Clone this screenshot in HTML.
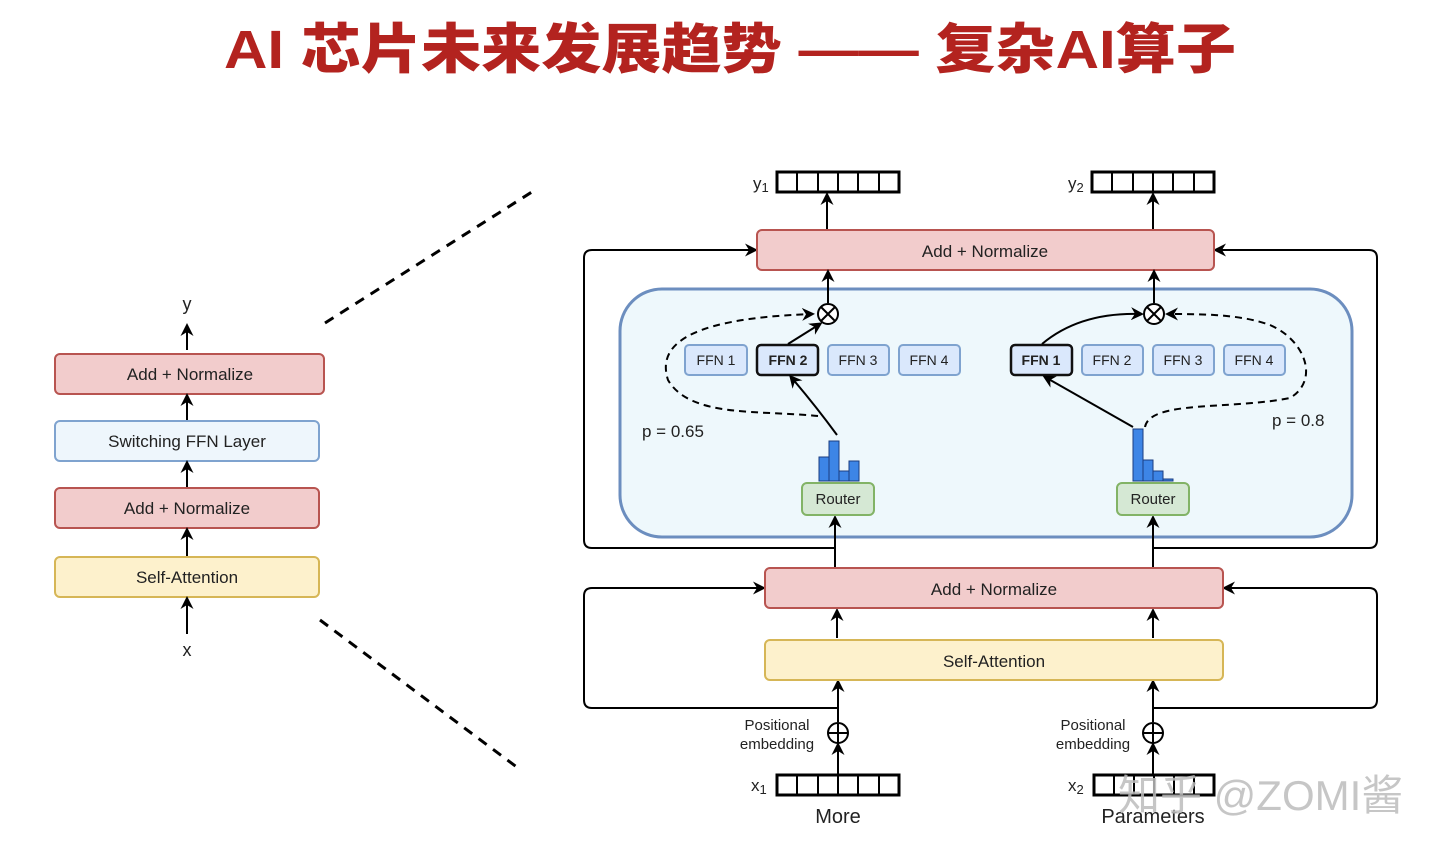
<!DOCTYPE html>
<html><head><meta charset="utf-8"><style>
html,body{margin:0;padding:0;background:#fff;}
svg{display:block;}
text{font-family:"Liberation Sans","Noto Sans CJK SC",sans-serif;fill:#222;}
</style></head><body>
<svg width="1440" height="853" viewBox="0 0 1440 853" xmlns="http://www.w3.org/2000/svg">
<defs>
<marker id="a" markerWidth="13" markerHeight="13" refX="10" refY="6.5" orient="auto" markerUnits="userSpaceOnUse">
<path d="M0,0 L13,6.5 L0,13 L4,6.5 z" fill="#000"/></marker>
</defs>
<text x="730" y="68" text-anchor="middle" font-size="54" font-weight="900" textLength="1012" lengthAdjust="spacingAndGlyphs" style="fill:#b3231f;font-family:'Liberation Sans','Noto Sans CJK SC',sans-serif">AI 芯片未来发展趋势 —— 复杂AI算子</text>

<g stroke-width="2">
<rect x="55" y="354" width="269" height="40" rx="5" fill="#f2cccc" stroke="#b85450"/>
<rect x="55" y="421" width="264" height="40" rx="5" fill="#eef6fc" stroke="#7fa3cf"/>
<rect x="55" y="488" width="264" height="40" rx="5" fill="#f2cccc" stroke="#b85450"/>
<rect x="55" y="557" width="264" height="40" rx="5" fill="#fdf1cc" stroke="#d6b656"/>
</g>
<g font-size="17" text-anchor="middle">
<text x="190" y="380">Add + Normalize</text>
<text x="187" y="447">Switching FFN Layer</text>
<text x="187" y="514">Add + Normalize</text>
<text x="187" y="583">Self-Attention</text>
<text x="187" y="310" font-size="18">y</text>
<text x="187" y="656" font-size="18">x</text>
</g>
<g stroke="#000" stroke-width="2" marker-end="url(#a)">
<line x1="187" y1="350" x2="187" y2="326"/>
<line x1="187" y1="420" x2="187" y2="396"/>
<line x1="187" y1="487" x2="187" y2="463"/>
<line x1="187" y1="556" x2="187" y2="530"/>
<line x1="187" y1="634" x2="187" y2="599"/>
</g>
<g stroke="#000" stroke-width="3" stroke-dasharray="10,8">
<line x1="325" y1="323" x2="535" y2="190"/>
<line x1="320" y1="620" x2="518" y2="768"/>
</g>

<g fill="none" stroke="#000" stroke-width="2">
<path d="M835,548 H592 Q584,548 584,540 V258 Q584,250 592,250 H755" marker-end="url(#a)"/>
<path d="M1153,548 H1369 Q1377,548 1377,540 V258 Q1377,250 1369,250 H1216" marker-end="url(#a)"/>
<path d="M837,708 H592 Q584,708 584,700 V596 Q584,588 592,588 H763" marker-end="url(#a)"/>
<path d="M1153,708 H1369 Q1377,708 1377,700 V596 Q1377,588 1369,588 H1225" marker-end="url(#a)"/>
</g>

<rect x="620" y="289" width="732" height="248" rx="42" fill="#eef8fc" stroke="#6c8ebf" stroke-width="3"/>

<rect x="757" y="230" width="457" height="40" rx="5" fill="#f2cccc" stroke="#b85450" stroke-width="2"/>
<text x="985" y="257" font-size="17" text-anchor="middle">Add + Normalize</text>
<g fill="#fff" stroke="#000" stroke-width="3">
<rect x="777" y="172" width="122" height="20"/>
<rect x="1092" y="172" width="122" height="20"/>
<rect x="777" y="775" width="122" height="20"/>
<rect x="1094" y="775" width="120" height="20"/>
</g>
<g stroke="#000" stroke-width="2">
<path d="M797,172v20M818,172v20M838,172v20M858,172v20M879,172v20"/>
<path d="M1112,172v20M1133,172v20M1153,172v20M1173,172v20M1194,172v20"/>
<path d="M797,775v20M818,775v20M838,775v20M858,775v20M879,775v20"/>
<path d="M1114,775v20M1134,775v20M1154,775v20M1174,775v20M1194,775v20"/>
</g>
<text x="753" y="189" font-size="17">y<tspan font-size="13" dy="3">1</tspan></text>
<text x="1068" y="189" font-size="17">y<tspan font-size="13" dy="3">2</tspan></text>
<text x="751" y="791" font-size="17">x<tspan font-size="13" dy="3">1</tspan></text>
<text x="1068" y="791" font-size="17">x<tspan font-size="13" dy="3">2</tspan></text>
<text x="838" y="823" font-size="20" text-anchor="middle">More</text>
<text x="1153" y="823" font-size="20" text-anchor="middle">Parameters</text>

<g stroke="#000" stroke-width="2" marker-end="url(#a)">
<line x1="827" y1="229" x2="827" y2="195"/>
<line x1="1153" y1="229" x2="1153" y2="195"/>
<line x1="828" y1="303" x2="828" y2="272"/>
<line x1="1154" y1="303" x2="1154" y2="272"/>
<line x1="835" y1="567" x2="835" y2="518"/>
<line x1="1153" y1="567" x2="1153" y2="518"/>
<line x1="837" y1="638" x2="837" y2="611"/>
<line x1="1153" y1="638" x2="1153" y2="611"/>
<line x1="838" y1="722" x2="838" y2="682"/>
<line x1="1153" y1="722" x2="1153" y2="682"/>
<line x1="838" y1="775" x2="838" y2="745"/>
<line x1="1153" y1="775" x2="1153" y2="745"/>
</g>

<rect x="765" y="568" width="458" height="40" rx="5" fill="#f2cccc" stroke="#b85450" stroke-width="2"/>
<text x="994" y="595" font-size="17" text-anchor="middle">Add + Normalize</text>
<rect x="765" y="640" width="458" height="40" rx="5" fill="#fdf1cc" stroke="#d6b656" stroke-width="2"/>
<text x="994" y="667" font-size="17" text-anchor="middle">Self-Attention</text>

<g fill="#fff" stroke="#000" stroke-width="2">
<circle cx="838" cy="733" r="10"/><path d="M828,733h20M838,723v20"/>
<circle cx="1153" cy="733" r="10"/><path d="M1143,733h20M1153,723v20"/>
<circle cx="828" cy="314" r="10"/><path d="M821,307l14,14M835,307l-14,14"/>
<circle cx="1154" cy="314" r="10"/><path d="M1147,307l14,14M1161,307l-14,14"/>
</g>
<g font-size="15" text-anchor="middle">
<text x="777" y="730">Positional</text><text x="777" y="749">embedding</text>
<text x="1093" y="730">Positional</text><text x="1093" y="749">embedding</text>
</g>

<g fill="#dae8fc" stroke="#7fa3cf" stroke-width="2">
<rect x="685" y="345" width="62" height="30" rx="4"/>
<rect x="828" y="345" width="61" height="30" rx="4"/>
<rect x="899" y="345" width="61" height="30" rx="4"/>
<rect x="1082" y="345" width="61" height="30" rx="4"/>
<rect x="1153" y="345" width="61" height="30" rx="4"/>
<rect x="1224" y="345" width="61" height="30" rx="4"/>
</g>
<g fill="#dae8fc" stroke="#111" stroke-width="2.5">
<rect x="757" y="345" width="61" height="30" rx="4"/>
<rect x="1011" y="345" width="61" height="30" rx="4"/>
</g>
<g font-size="14" text-anchor="middle">
<text x="716" y="365">FFN 1</text>
<text x="788" y="365" font-weight="bold">FFN 2</text>
<text x="858" y="365">FFN 3</text>
<text x="929" y="365">FFN 4</text>
<text x="1041" y="365" font-weight="bold">FFN 1</text>
<text x="1112" y="365">FFN 2</text>
<text x="1183" y="365">FFN 3</text>
<text x="1254" y="365">FFN 4</text>
</g>

<g fill="#d5e8d4" stroke="#82b366" stroke-width="2">
<rect x="802" y="483" width="72" height="32" rx="5"/>
<rect x="1117" y="483" width="72" height="32" rx="5"/>
</g>
<text x="838" y="504" font-size="15" text-anchor="middle">Router</text>
<text x="1153" y="504" font-size="15" text-anchor="middle">Router</text>
<g fill="#3d85e6" stroke="#1a3d80" stroke-width="1">
<rect x="819" y="457" width="10" height="24"/>
<rect x="829" y="441" width="10" height="40"/>
<rect x="839" y="471" width="10" height="10"/>
<rect x="849" y="461" width="10" height="20"/>
<rect x="1133" y="429" width="10" height="52"/>
<rect x="1143" y="460" width="10" height="21"/>
<rect x="1153" y="471" width="10" height="10"/>
<rect x="1163" y="479" width="10" height="2"/>
</g>

<g fill="none" stroke="#000" stroke-width="2" marker-end="url(#a)">
<path d="M837,435 Q815,405 791,377"/>
<path d="M788,344 L820,324"/>
<path d="M1133,427 L1045,377"/>
<path d="M1042,344 Q1080,312 1141,314"/>
</g>
<g fill="none" stroke="#000" stroke-width="2" stroke-dasharray="7,5">
<path d="M818,416 C760,410 690,418 668,380 C655,340 700,318 812,314" marker-end="url(#a)"/>
<path d="M1145,427 C1150,400 1230,410 1290,398 C1320,380 1305,340 1270,325 C1240,314 1200,314 1168,314" marker-end="url(#a)"/>
</g>
<text x="642" y="437" font-size="17">p = 0.65</text>
<text x="1272" y="426" font-size="17">p = 0.8</text>

<text x="1118" y="810" font-size="42" style="fill:#bdbdbd;opacity:0.85">知乎 @ZOMI酱</text>
</svg>
</body></html>
